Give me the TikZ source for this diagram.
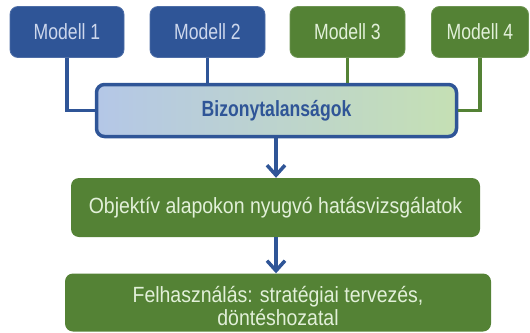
\documentclass[tikz,border=0pt]{standalone}
\usepackage{fontspec}
\setmainfont{Liberation Sans}[FakeStretch=0.80]
\newfontfamily\widefont{Liberation Sans}[FakeStretch=0.885]
\usetikzlibrary{arrows.meta,positioning}
\definecolor{dkblue}{HTML}{2F5597}
\definecolor{dkgreen}{HTML}{548235}
\definecolor{lblue}{HTML}{B4C7E7}
\definecolor{lgreen}{HTML}{C5E0B4}
\definecolor{bluetext}{HTML}{CDD7EC}
\definecolor{greentext}{HTML}{E2F0D9}
\tikzset{
  box/.style={rounded corners=8pt, inner sep=0pt, align=center,
    font=\fontsize{22}{23}\selectfont},
  bluebox/.style={box, fill=dkblue, draw=dkblue!85!white, line width=0.8pt,
    text=bluetext, minimum width=114pt, minimum height=51pt},
  greenbox/.style={box, fill=dkgreen, draw=dkgreen!85!white, line width=0.8pt,
    text=greentext, minimum height=51pt},
  flowbox/.style={box, fill=dkgreen, text=greentext,
    font=\widefont\fontsize{22}{23}\selectfont},
  link/.style={line width=3.5pt},
  flowarrow/.style={line width=3.5pt, dkblue,
    -{Straight Barb[length=10pt,width=18pt,line width=3.5pt]}}
}
\begin{document}
\begin{tikzpicture}[x=1pt,y=-1pt]
  \useasboundingbox (0,0) rectangle (530,332);

  % top row of models
  \node[bluebox] (m1) at (67,32) {Modell 1};
  \node[bluebox, minimum width=115pt] (m2) at (207.5,32) {Modell 2};
  \node[greenbox, minimum width=115pt] (m3) at (347.5,32) {Modell 3};
  \node[greenbox, minimum width=97pt] (m4) at (480,32) {Modell 4};

  % shared uncertainty box
  \node[box, line width=3.5pt, draw=dkblue, left color=lblue, right color=lgreen,
        minimum width=360pt, minimum height=52pt, text=dkblue,
        font=\fontsize{22}{24}\selectfont\bfseries] (biz) at (276.5,110.5)
        {Bizonytalanságok};

  % lower flow
  \node[flowbox, minimum width=409pt, minimum height=59pt] (obj) at (275.5,207.5)
        {Objektív alapokon nyugvó hatásvizsgálatok};
  \node[flowbox, minimum width=426pt, minimum height=58pt] (fel) at (278,302.5) {};
  \node[flowbox, fill=none] (feltext) at ([yshift=-4pt]fel.center)
        {Felhasználás: stratégiai tervezés,\\döntéshozatal};

  % model connectors
  \draw[link, dkblue] (m1.south) |- (biz.west);
  \draw[link, dkblue] (m2.south) -- (m2.south |- biz.north);
  \draw[link, dkgreen] (m3.south) -- (m3.south |- biz.north);
  \draw[link, dkgreen] (m4.south) |- (biz.east);

  % flow arrows
  \draw[flowarrow] (biz.south -| 276,0) -- (obj.north -| 276,0);
  \draw[flowarrow] (obj.south -| 276,0) -- (fel.north -| 276,0);
\end{tikzpicture}
\end{document}
